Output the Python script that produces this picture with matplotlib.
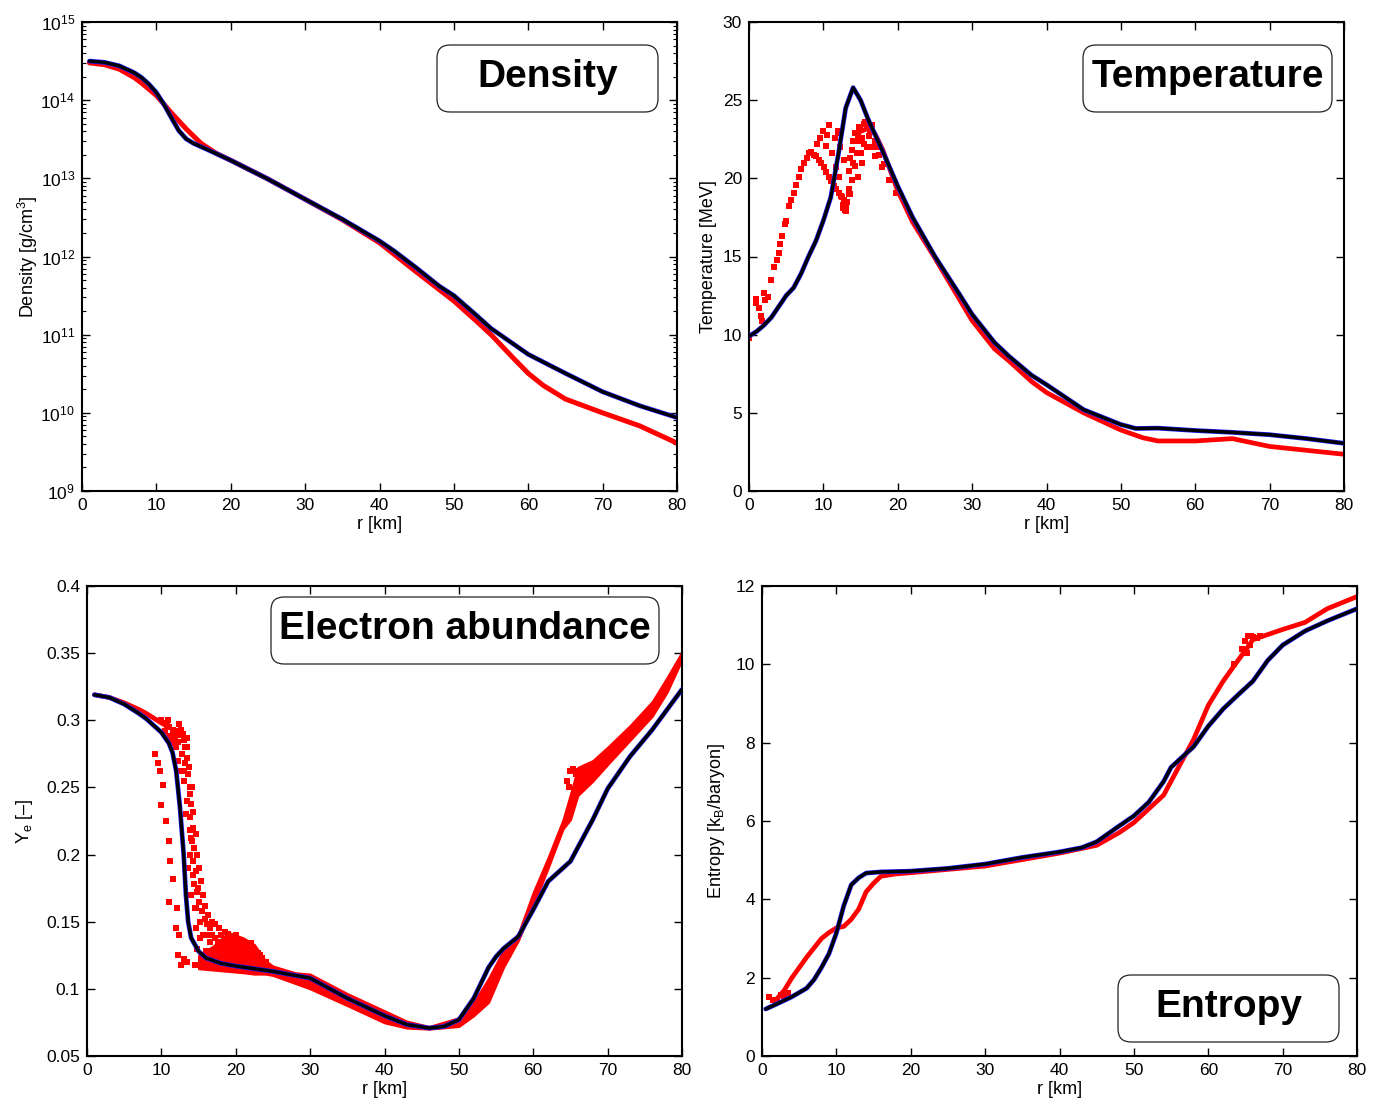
import numpy as np
import matplotlib
matplotlib.use("Agg")
import matplotlib.pyplot as plt
from matplotlib.patches import FancyBboxPatch
from matplotlib.ticker import LogLocator, NullFormatter

plt.rcParams['font.family'] = ['Liberation Sans', 'DejaVu Sans']
plt.rcParams['mathtext.fontset'] = 'custom'
plt.rcParams['mathtext.rm'] = 'Liberation Sans'
plt.rcParams['mathtext.it'] = 'Liberation Sans'

# ---------------- Density ----------------
dens_r_black = [1, 3, 5, 7, 8, 9, 10, 11, 12, 13, 14, 15, 17, 20, 25, 30, 35, 40, 42, 45, 48, 50, 53, 55,
                58, 60, 65, 70, 75, 80]
dens_black = [3.16e14, 3.05e14, 2.75e14, 2.25e14, 1.95e14, 1.6e14, 1.25e14, 8.9e13, 6.0e13, 4.1e13, 3.2e13,
              2.8e13, 2.3e13, 1.7e13, 9.8e12, 5.4e12, 3.0e12, 1.58e12, 1.17e12, 7.1e11, 4.2e11, 3.16e11,
              1.78e11, 1.2e11, 7.6e10, 5.6e10, 3.2e10, 1.86e10, 1.23e10, 8.7e9]
dens_r_red = [1, 3, 5, 7, 8, 10, 12, 14, 16, 18, 20, 25, 30, 35, 40, 45, 50, 53, 55, 58, 60, 62, 65, 70,
              75, 80]
dens_red = [3.0e14, 2.85e14, 2.5e14, 1.95e14, 1.66e14, 1.15e14, 6.9e13, 4.3e13, 2.8e13, 2.1e13, 1.7e13,
            9.8e12, 5.4e12, 2.95e12, 1.5e12, 6.3e11, 2.7e11, 1.5e11, 1.0e11, 5.0e10, 3.2e10, 2.25e10,
            1.5e10, 1.0e10, 6.8e9, 4.1e9]

# ---------------- Temperature ----------------
temp_r_black = [0, 1, 2, 3, 4, 5, 6, 7, 8, 9, 10, 11, 12, 13, 14, 15, 16, 18, 20, 22, 25, 28, 30, 33, 35,
                38, 40, 45, 50, 52, 55, 60, 65, 70, 75, 80]
temp_black = [9.9, 10.2, 10.6, 11.1, 11.8, 12.5, 13.0, 13.9, 15.0, 16.0, 17.3, 18.8, 21.5, 24.5, 25.8, 25.0,
              23.8, 21.7, 19.5, 17.5, 15.0, 12.8, 11.3, 9.5, 8.6, 7.4, 6.8, 5.2, 4.25, 4.0, 4.02, 3.87,
              3.75, 3.6, 3.35, 3.05]
temp_r_red = [15, 16, 17, 18, 20, 22, 25, 28, 30, 33, 35, 38, 40, 45, 50, 53, 55, 60, 65, 70, 75, 80]
temp_red = [23.0, 23.2, 22.8, 21.8, 19.2, 17.2, 14.9, 12.5, 10.9, 9.1, 8.3, 7.0, 6.3, 5.0, 3.9, 3.4, 3.2,
            3.2, 3.35, 2.85, 2.6, 2.35]
temp_dots_r = [0, 0.9, 1.35, 1.6, 2.0, 2.5, 2.9, 3.4, 4.0, 4.5, 4.9, 5.4, 6.05, 6.7, 7.4, 8.1, 8.7, 9.4,
               10.1, 10.8, 11.4, 12.1, 12.8, 13.0, 9.2, 9.9, 10.8, 10.3, 11.9, 11.2, 12.3, 12.8, 13.4,
               13.9, 14.3, 13.9, 14.3, 14.8, 15.5, 15.9, 16.1, 15.5, 15.0, 14.6, 13.4, 12.5, 13.0, 16.6,
               17.0, 17.9, 18.8, 19.7, 11.65, 12.1, 14.0, 14.6, 15.2, 13.6, 12.9,
               5.0, 5.7, 6.3, 7.0, 7.8, 8.4, 9.0, 9.7, 10.4, 11.0, 11.7, 12.4, 12.6, 13.2, 13.5, 12.0,
               11.5, 10.5, 9.6, 13.6, 14.0, 14.5, 15.2, 16.3, 16.9, 17.5, 18.2, 15.8, 14.7, 3.7, 4.2,
               2.2, 1.0, 1.8, 13.1, 12.7, 14.9, 15.6, 16.6, 17.3]
temp_dots = [9.8, 12.3, 11.7, 11.2, 12.65, 12.4, 13.5, 14.35, 15.2, 16.3, 17.1, 18.2, 19.05, 20.1, 21.0,
             21.6, 21.5, 21.2, 20.75, 20.1, 19.5, 19.05, 18.6, 18.2, 22.2, 23.0, 23.4, 22.1, 22.9, 21.6,
             22.0, 21.2, 20.5, 19.9, 20.8, 21.8, 22.9, 23.3, 23.5, 23.3, 22.7, 22.2, 21.6, 20.1, 19.3,
             18.8, 18.4, 22.0, 21.4, 20.75, 19.9, 19.05, 20.75, 20.1, 22.4, 22.8, 21.0, 19.0, 18.0,
             17.3, 18.6, 19.6, 20.6, 21.3, 21.7, 21.4, 21.0, 20.4, 19.8, 19.3, 18.9, 18.3, 18.5, 19.0,
             23.0, 22.6, 22.8, 22.6, 21.3, 21.0, 21.6, 22.6, 23.0, 22.4, 21.5, 20.9, 22.0, 22.4, 14.8,
             15.8, 12.2, 12.0, 10.9, 17.9, 18.1, 23.1, 23.6, 23.4, 22.0]

# ---------------- Electron abundance ----------------
ye_r_black = [1, 3, 5, 7, 8, 9, 10, 11, 11.5, 12, 12.5, 13, 13.3, 13.6, 14, 15, 16, 18, 20, 25, 30, 35, 40,
              43, 46, 48, 50, 52, 54, 55, 56, 58, 60, 62, 65, 68, 70, 73, 76, 80]
ye_black = [0.319, 0.317, 0.312, 0.305, 0.301, 0.296, 0.291, 0.283, 0.276, 0.262, 0.235, 0.200, 0.170, 0.150,
            0.138, 0.128, 0.123, 0.119, 0.117, 0.113, 0.108, 0.093, 0.080, 0.0734, 0.0708, 0.072, 0.077,
            0.093, 0.116, 0.124, 0.130, 0.139, 0.159, 0.180, 0.195, 0.226, 0.249, 0.273, 0.293, 0.323]
ye_r_red_top = [1, 3, 5, 7, 8, 10, 11]
ye_red_top = [0.319, 0.317, 0.313, 0.308, 0.305, 0.298, 0.295]
ye_r_band = [15, 17, 19, 21, 22.5, 24, 25, 28, 30, 35, 40, 43, 46, 50, 52, 54, 56, 58, 60, 62, 64, 65, 66,
             68, 70, 73, 76, 78, 80]
ye_band_hi = [0.125, 0.132, 0.142, 0.138, 0.133, 0.121, 0.117, 0.112, 0.111, 0.0965, 0.0837, 0.076, 0.072,
              0.0785, 0.090, 0.108, 0.129, 0.1415, 0.172, 0.198, 0.226, 0.245, 0.265, 0.27, 0.280, 0.296,
              0.314, 0.332, 0.351]
ye_band_lo = [0.115, 0.114, 0.113, 0.112, 0.111, 0.111, 0.110, 0.104, 0.100, 0.0875, 0.0747, 0.0708, 0.070,
              0.072, 0.080, 0.090, 0.116, 0.136, 0.162, 0.190, 0.219, 0.226, 0.244, 0.2546, 0.267, 0.285,
              0.303, 0.321, 0.345]
ye_dots_r = [9.1, 9.8, 10.2, 10.0, 10.6, 11.0, 11.2, 11.6, 11.0, 12.1, 11.9, 12.4, 12.2, 13.0, 12.6, 13.5,
             10.0, 10.5, 11.0, 11.5, 12.0, 12.5, 13.0, 13.5, 11.2, 12.0, 12.8, 13.2, 13.6, 13.0, 13.8, 13.4,
             14.0, 13.8, 14.2, 14.0, 14.4, 14.2, 14.6, 14.4, 14.8, 15.0, 14.6, 15.4, 15.2, 15.8, 16.2, 16.6,
             15.6, 16.8, 17.2, 17.6, 18.0, 18.5, 19.0, 19.5, 20.0, 20.5, 21.0, 21.5, 22.0, 22.5, 23.0, 23.5,
             24.0, 14.8, 15.5, 16.0, 17.0, 18.0, 19.0, 20.0, 21.0, 22.0, 14.5, 12.3, 12.7, 11.8, 13.3, 14.1,
             64.5, 65.0, 65.3, 65.7, 66.0, 64.8,
             10.5, 11.0, 11.5, 12.0, 12.3, 12.6, 12.9, 13.2, 13.5, 13.1, 13.7, 13.9, 14.1, 14.3, 13.9, 14.6,
             14.8, 15.0, 15.3, 14.9, 15.6, 15.9, 16.3, 16.8, 17.2, 16.0, 16.5, 14.2, 14.5, 14.0, 13.6, 13.8,
             14.7, 15.2, 17.8, 18.5, 19.2, 20.5, 21.8, 23.2, 10.8, 11.8, 12.4, 13.4, 9.6, 10.9]
ye_dots = [0.275, 0.262, 0.252, 0.237, 0.225, 0.210, 0.195, 0.182, 0.165, 0.160, 0.145, 0.140, 0.125, 0.122,
           0.118, 0.120, 0.300, 0.298, 0.295, 0.293, 0.290, 0.289, 0.285, 0.280, 0.285, 0.280, 0.275, 0.268,
           0.260, 0.255, 0.250, 0.240, 0.238, 0.228, 0.220, 0.212, 0.205, 0.195, 0.188, 0.178, 0.172, 0.165,
           0.160, 0.158, 0.150, 0.152, 0.148, 0.145, 0.140, 0.140, 0.138, 0.135, 0.140, 0.142, 0.141, 0.138,
           0.140, 0.136, 0.135, 0.133, 0.134, 0.130, 0.127, 0.123, 0.120, 0.130, 0.125, 0.128, 0.125, 0.125,
           0.127, 0.128, 0.126, 0.124, 0.118, 0.27, 0.262, 0.286, 0.23, 0.21,
           0.255, 0.262, 0.264, 0.26, 0.262, 0.25,
           0.292, 0.288, 0.283, 0.292, 0.284, 0.293, 0.290, 0.280, 0.272, 0.262, 0.265, 0.245, 0.250, 0.232,
           0.218, 0.215, 0.200, 0.190, 0.180, 0.175, 0.170, 0.162, 0.155, 0.150, 0.148, 0.140, 0.135, 0.185,
           0.160, 0.170, 0.190, 0.200, 0.145, 0.138, 0.145, 0.135, 0.132, 0.130, 0.130, 0.125, 0.296, 0.290,
           0.297, 0.287, 0.268, 0.300]

# ---------------- Entropy ----------------
ent_r_black = [0.5, 2, 4, 6, 7, 8, 9, 10, 11, 12, 13, 14, 16, 20, 25, 30, 35, 40, 43, 45, 48, 50, 52, 54,
               55, 57, 58, 60, 62, 64, 66, 68, 70, 73, 76, 80]
ent_black = [1.20, 1.33, 1.51, 1.73, 1.95, 2.26, 2.61, 3.14, 3.84, 4.37, 4.55, 4.67, 4.70, 4.72, 4.79, 4.90,
             5.07, 5.21, 5.32, 5.47, 5.87, 6.13, 6.48, 7.01, 7.37, 7.72, 7.89, 8.42, 8.86, 9.22, 9.57,
             10.1, 10.49, 10.85, 11.11, 11.42]
ent_r_red = [2, 3, 4, 6, 8, 9, 10, 11, 12, 13, 14, 15, 16, 18, 20, 30, 40, 45, 48, 50, 52, 54, 56, 58, 60,
             62, 64, 65, 66, 68, 70, 73, 76, 80]
ent_red = [1.46, 1.68, 1.99, 2.52, 3.0, 3.15, 3.27, 3.31, 3.49, 3.75, 4.19, 4.41, 4.59, 4.65, 4.68, 4.85,
           5.18, 5.38, 5.7, 5.96, 6.31, 6.66, 7.37, 8.07, 8.95, 9.57, 10.1, 10.36, 10.63, 10.76, 10.89,
           11.07, 11.42, 11.73]
ent_dots_r = [1.0, 1.5, 2.0, 2.5, 3.0, 3.5, 64.5, 65.0, 65.3, 65.7, 66.0, 66.5, 67.0, 63.5, 65.2, 65.6]
ent_dots = [1.50, 1.42, 1.38, 1.55, 1.52, 1.60, 10.4, 10.6, 10.72, 10.72, 10.7, 10.68, 10.72, 10.0, 10.3, 10.5]

RED = '#ff0000'
BLUE = '#1a1aff'

fig = plt.figure(figsize=(13.84, 11.01), dpi=100)
W, H = 1384.0, 1101.0


def make_ax(x0, y0, x1, y1):
    return fig.add_axes([x0 / W, (H - y1) / H, (x1 - x0) / W, (y1 - y0) / H])


def style(ax):
    ax.tick_params(direction='in', top=True, right=True, length=6, width=1, labelsize=12.5, pad=5)
    ax.tick_params(which='minor', direction='in', top=False, right=True, length=3, width=0.8)
    for s in ax.spines.values():
        s.set_linewidth(1.5)
    ax.set_xlim(0, 80)
    ax.set_xticks(range(0, 81, 10))
    ax.set_xlabel('r [km]', fontsize=13, labelpad=2)


def curves(ax, rb, vb):
    ax.plot(rb, vb, color=BLUE, lw=3.4, zorder=3, solid_capstyle='round', solid_joinstyle='round')
    ax.plot(rb, vb, color='black', lw=2.4, zorder=4, solid_capstyle='round', solid_joinstyle='round')


def label_box(x0, y0, x1, y1, text):
    patch = FancyBboxPatch((x0 / 100, (H - y1) / 100), (x1 - x0) / 100, (y1 - y0) / 100,
                           boxstyle="round,pad=0,rounding_size=0.13", transform=fig.dpi_scale_trans,
                           fc='white', ec='#222222', lw=0.9, zorder=5)
    fig.add_artist(patch)
    fig.text((x0 + x1) / 2 / W, 1 - (y0 + y1) / 2 / H + 0.001, text, ha='center', va='center',
             fontsize=28, fontweight='bold', zorder=6)


DOT = dict(s=13, color=RED, marker='s', lw=0, zorder=2)

# Density
ax1 = make_ax(82, 22, 677, 491)
ax1.plot(dens_r_red, dens_red, color=RED, lw=3.6, zorder=2, solid_capstyle='round', solid_joinstyle='round')
curves(ax1, dens_r_black, dens_black)
ax1.set_yscale('log')
ax1.set_ylim(1e9, 1e15)
ax1.yaxis.set_major_locator(LogLocator(base=10, numticks=10))
ax1.yaxis.set_minor_locator(LogLocator(base=10, subs=np.arange(2, 10), numticks=20))
ax1.yaxis.set_minor_formatter(NullFormatter())
style(ax1)
ax1.set_ylabel('Density [g/cm$^3$]', fontsize=13, labelpad=0)

# Temperature
ax2 = make_ax(749, 22, 1344, 491)
ax2.plot(temp_r_red, temp_red, color=RED, lw=3.4, zorder=2, solid_capstyle='round', solid_joinstyle='round')
ax2.scatter(temp_dots_r, temp_dots, **DOT)
curves(ax2, temp_r_black, temp_black)
ax2.set_ylim(0, 30)
ax2.set_yticks(range(0, 31, 5))
style(ax2)
ax2.set_ylabel('Temperature [MeV]', fontsize=13, labelpad=4)

# Electron abundance
ax3 = make_ax(87, 586, 682, 1056)
ax3.fill_between(ye_r_band, ye_band_lo, ye_band_hi, color=RED, lw=1.5, edgecolor=RED, zorder=2)
ax3.plot(ye_r_red_top, ye_red_top, color=RED, lw=3.4, zorder=2, solid_capstyle='round', solid_joinstyle='round')
ax3.scatter(ye_dots_r, ye_dots, **DOT)
curves(ax3, ye_r_black, ye_black)
ax3.set_ylim(0.05, 0.4)
ax3.set_yticks([0.05, 0.1, 0.15, 0.2, 0.25, 0.3, 0.35, 0.4])
ax3.set_yticklabels(['0.05', '0.1', '0.15', '0.2', '0.25', '0.3', '0.35', '0.4'])
style(ax3)
ax3.set_ylabel('Y$_e$ [–]', fontsize=13, labelpad=8)

# Entropy
ax4 = make_ax(762, 586, 1357, 1056)
ax4.plot(ent_r_red, ent_red, color=RED, lw=3.4, zorder=2, solid_capstyle='round', solid_joinstyle='round')
ax4.scatter(ent_dots_r, ent_dots, **DOT)
curves(ax4, ent_r_black, ent_black)
ax4.set_ylim(0, 12)
ax4.set_yticks(range(0, 13, 2))
style(ax4)
ax4.set_ylabel('Entropy [k$_B$/baryon]', fontsize=13, labelpad=6)

label_box(437, 45, 658, 112, 'Density')
label_box(1083, 45, 1332, 112, 'Temperature')
label_box(271, 597, 659, 664, 'Electron abundance')
label_box(1118, 975, 1339, 1042, 'Entropy')

fig.savefig('out.png', dpi=100)
